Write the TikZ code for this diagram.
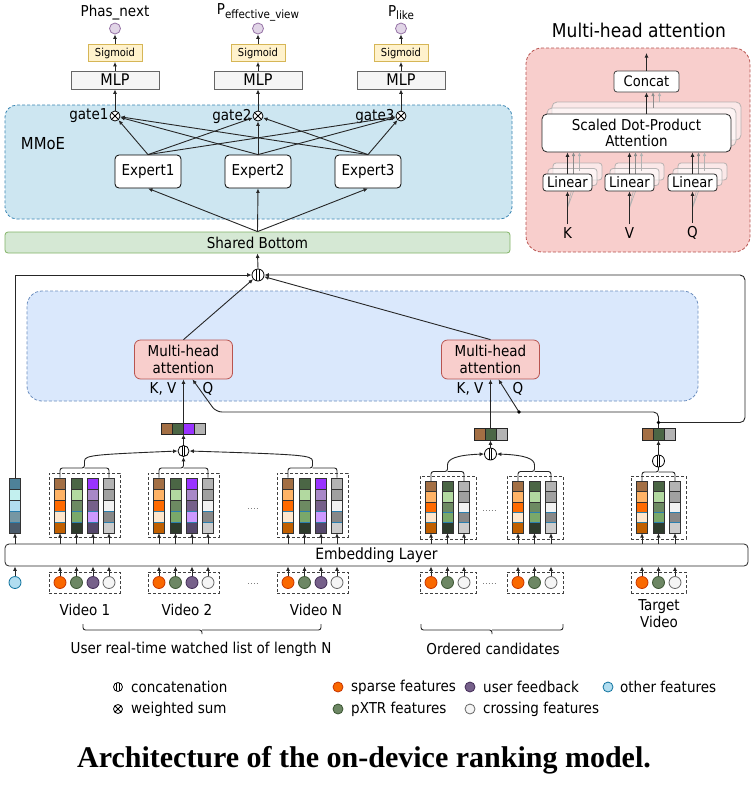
\documentclass[tikz,border=0pt]{standalone}
\usepackage{fontspec}
\setmainfont{DejaVu Sans Condensed}
\newfontfamily\capfont{Liberation Serif}
\usetikzlibrary{arrows.meta,calc}
\newcommand{\fs}[1]{\fontsize{#1}{#1}\selectfont}
\definecolor{mmoeF}{HTML}{CDE6F1}\definecolor{mmoeS}{HTML}{3A86B4}
\definecolor{midF}{HTML}{DAE8FC}\definecolor{midS}{HTML}{6C8EBF}
\definecolor{attF}{HTML}{F8CECC}\definecolor{attS}{HTML}{B85450}
\definecolor{sbF}{HTML}{D5E8D4}\definecolor{sbS}{HTML}{82B366}
\definecolor{mlpF}{HTML}{F5F5F5}\definecolor{mlpS}{HTML}{666666}
\definecolor{sigF}{HTML}{FFF2CC}\definecolor{sigS}{HTML}{D6B656}
\definecolor{outF}{HTML}{E1D5E7}\definecolor{outS}{HTML}{9673A6}
\definecolor{cellBlue}{HTML}{2A7FAF}
\definecolor{spA}{HTML}{A36F44}\definecolor{spB}{HTML}{FFB366}\definecolor{spC}{HTML}{FF6A00}\definecolor{spD}{HTML}{FFE6CC}\definecolor{spE}{HTML}{C05F00}
\definecolor{pxA}{HTML}{4B6645}\definecolor{pxB}{HTML}{B2D9A0}\definecolor{pxC}{HTML}{6D8A62}\definecolor{pxD}{HTML}{7AA86A}\definecolor{pxE}{HTML}{2E3B2C}
\definecolor{fbA}{HTML}{9933FF}\definecolor{fbB}{HTML}{A888C8}\definecolor{fbC}{HTML}{76608A}\definecolor{fbD}{HTML}{CC99FF}\definecolor{fbE}{HTML}{55476B}
\definecolor{crA}{HTML}{B3B3B3}\definecolor{crB}{HTML}{A0A0A0}\definecolor{crC}{HTML}{F2F2F2}\definecolor{crD}{HTML}{888888}\definecolor{crE}{HTML}{CCCCCC}
\definecolor{ofA}{HTML}{4E8299}\definecolor{ofB}{HTML}{C3F0EF}\definecolor{ofC}{HTML}{B1DDF0}\definecolor{ofD}{HTML}{7697A3}\definecolor{ofE}{HTML}{4B5B6B}
\definecolor{dSp}{HTML}{FA6800}\definecolor{dSpS}{HTML}{C73500}
\definecolor{dPx}{HTML}{6D8764}\definecolor{dPxS}{HTML}{3A5431}
\definecolor{dFb}{HTML}{76608A}\definecolor{dFbS}{HTML}{432D57}
\definecolor{dCr}{HTML}{F5F5F5}\definecolor{dCrS}{HTML}{666666}
\definecolor{dOf}{HTML}{B1DDF0}\definecolor{dOfS}{HTML}{10739E}

\newcommand{\fcol}[9]{%
 \draw[cellS, fill=#5] (#2-5.5,#3) rectangle (#2+5.5,#3+#4);
 \draw[cellS, fill=#6] (#2-5.5,#3+#4) rectangle (#2+5.5,#3+2*#4);
 \draw[cellS, fill=#7] (#2-5.5,#3+2*#4) rectangle (#2+5.5,#3+3*#4);
 \draw[cellS, fill=#9] (#2-5.5,#3+4*#4) rectangle (#2+5.5,#3+5*#4);
 \draw[cellS, draw=cellBlue, fill=#8] (#2-5.5,#3+3*#4) rectangle (#2+5.5,#3+4*#4);
 \draw[cellS] (#2-5.5,#3) -- (#2-5.5,#3+5*#4) (#2+5.5,#3) -- (#2+5.5,#3+5*#4);
 \coordinate (#1t) at (#2,#3);
 \coordinate (#1b) at (#2,#3+5*#4);
 \draw[arr] (#1b |- emb.north) -- (#1b);
}
\newcommand{\csp}[4]{\fcol{#1}{#2}{#3}{#4}{spA}{spB}{spC}{spD}{spE}}
\newcommand{\cpx}[4]{\fcol{#1}{#2}{#3}{#4}{pxA}{pxB}{pxC}{pxD}{pxE}}
\newcommand{\cfb}[4]{\fcol{#1}{#2}{#3}{#4}{fbA}{fbB}{fbC}{fbD}{fbE}}
\newcommand{\ccr}[4]{\fcol{#1}{#2}{#3}{#4}{crA}{crB}{crC}{crD}{crE}}
\newcommand{\fdot}[4]{\node[fdotS, fill=#3, draw=#4] (#1) at (#2,582.5) {}; \draw[arr] (#1.north) -- (#1.north |- emb.south);}
\newcommand{\brk}[6]{% x1 x2 xm ybar ytop ybot
 \draw[ln, rounded corners=2.5pt] (#1,#6) |- (#3,#4) -- (#3,#5);
 \draw[ln, rounded corners=2.5pt] (#2,#6) |- (#3,#4);}

\begin{document}
\begin{tikzpicture}[x=1pt,y=-1pt,
  ln/.style={line width=0.9pt, draw=black!85},
  arr/.style={ln, -{Latex[length=4.5pt,width=4pt]}},
  garr/.style={line width=0.8pt, -{Latex[length=4pt,width=3.5pt]}},
  bx/.style={draw, inner sep=0pt, align=center, line width=0.8pt},
  cellS/.style={draw=black!80, line width=0.8pt},
  grp/.style={draw=black!75, line width=0.8pt, dash pattern=on 3pt off 2pt, inner sep=0pt},
  fdotS/.style={circle, line width=0.8pt, minimum size=12pt, inner sep=0pt},
  ocirc/.style={circle, draw=outS, fill=outF, line width=0.8pt, minimum size=11pt, inner sep=0pt},
  otimesnode/.style={circle, draw, fill=white, line width=0.8pt, inner sep=0pt, minimum size=#1,
    path picture={\draw[line width=0.8pt] (path picture bounding box.north west) -- (path picture bounding box.south east) (path picture bounding box.north east) -- (path picture bounding box.south west);}},
  otimesnode/.default=10pt,
  concatnode/.style={circle, draw, fill=white, line width=0.8pt, inner sep=0pt, minimum size=#1,
    path picture={\draw[line width=0.7pt] ([xshift=-1.3pt]path picture bounding box.north) -- ([xshift=-1.3pt]path picture bounding box.south) ([xshift=1.3pt]path picture bounding box.north) -- ([xshift=1.3pt]path picture bounding box.south);}},
  concatnode/.default=12pt,
  shadowbox/.style={bx, draw=black!35, fill=white, fill opacity=0.55, draw opacity=0.8},
  lbl/.style={font=\fs{15}},
]
\useasboundingbox (0,0) rectangle (752,788);
\fill[white] (0,0) rectangle (752,788);

% ---------- MMoE ----------
\node[bx, draw=mmoeS, dash pattern=on 3pt off 2pt, fill=mmoeF, rounded corners=12pt, minimum width=507pt, minimum height=114pt] (mmoe) at (258.5,162) {};
\node[font=\fs{16.5}] (mmoelab) at (43,144) {MMoE};
\node[bx, draw=sbS, fill=sbF, rounded corners=3pt, minimum width=505pt, minimum height=21pt, font=\fs{15}] (sb) at (257.5,242.5) {Shared Bottom};
\foreach \i/\x in {1/148,2/258,3/368}{
  \node[bx, fill=white, rounded corners=4pt, minimum width=66pt, minimum height=33pt, font=\fs{15}] (e\i) at (\x,171.5) {Expert\i};
}
\foreach \i/\x in {1/115,2/258,3/401}{
  \node[otimesnode] (g\i) at (\x,116) {};
  \node[font=\fs{15}, anchor=east, inner sep=1pt] (gl\i) at (g\i.west) {gate\i};
  \node[bx, draw=mlpS, fill=mlpF, minimum width=88pt, minimum height=18pt, font=\fs{16}] (m\i) at (\x,80) {MLP};
  \node[bx, draw=sigS, fill=sigF, minimum width=54pt, minimum height=17pt, font=\fs{11}] (s\i) at (\x,53) {Sigmoid};
  \node[ocirc] (o\i) at (\x,28.5) {};
  \draw[arr] (g\i.north) -- (m\i.south);
  \draw[arr] (m\i.north) -- (s\i.south);
  \draw[arr] (s\i.north) -- (o\i.south);
}
\node[font=\fs{15}] (p1) at (115,13) {Phas\_next};
\node[font=\fs{15}] (p2) at (258,12.5) {P{\fs{11.5}\raisebox{-3.5pt}{effective\_view}}};
\node[font=\fs{15}] (p3) at (401,12.5) {P{\fs{11.5}\raisebox{-3.5pt}{like}}};
\foreach \a in {1,2,3}{\foreach \b in {1,2,3}{\draw[arr] (e\a.north) -- (g\b);}}
\foreach \a in {1,2,3}{\draw[arr] (sb.north) -- (e\a.south);}

% ---------- Multi-head attention panel ----------
\node[font=\fs{19}] (mhtitle) at (639,30) {Multi-head attention};
\node[bx, draw=attS, fill=attF, dash pattern=on 3pt off 2pt, rounded corners=16pt, minimum width=224pt, minimum height=204pt] (mhp) at (638,150) {};
\node[shadowbox, rounded corners=5pt, minimum width=189pt, minimum height=38pt] (sdpaB) at (646.5,121) {};
\node[shadowbox, rounded corners=5pt, minimum width=189pt, minimum height=38pt] (sdpaA) at (641.5,127) {};
\node[bx, draw=black!75, fill=white, rounded corners=3pt, minimum width=65pt, minimum height=21pt, font=\fs{14.5}] (cat) at (646.5,81.5) {Concat};
\coordinate (mhout) at (646.5,53);
\draw[arr] (cat.north) -- (mhout);
\draw[garr, draw=black!45] (653,108) -- (653,92);
\draw[garr, draw=black!30] (659.5,102) -- (659.5,92);
\node[bx, draw=black!85, fill=white, rounded corners=5pt, minimum width=189pt, minimum height=38pt, font=\fontsize{15}{16.5}\selectfont] (sdpa) at (636.5,133) {Scaled Dot-Product\\Attention};
\draw[arr] (sdpa.north -| cat.south) -- (cat.south);
\foreach \i/\x/\l in {1/567.5/K,2/629.5/V,3/692.5/Q}{
  \node[shadowbox, rounded corners=3pt, minimum width=49pt, minimum height=17pt] (linB\i) at (\x+10,171.5) {};
  \node[shadowbox, rounded corners=3pt, minimum width=49pt, minimum height=17pt] (linA\i) at (\x+5,177) {};
  \draw[garr, draw=black!45] (\x+6,177) -- (\x+6,152);
  \draw[garr, draw=black!30] (\x+12,171) -- (\x+12,152);
  \draw[line width=0.6pt, draw=black!30] (\x,208) -- (\x+5,185.5) (\x,208) -- (\x+10,180);
  \node[bx, draw=black!85, fill=white, rounded corners=3pt, minimum width=49pt, minimum height=17pt, font=\fs{14.5}] (lin\i) at (\x,182.5) {Linear};
  \draw[arr] (lin\i.north) -- (lin\i.north |- sdpa.south);
  \node[font=\fs{15}] (kvq\i) at (\x,233) {\l};
  \draw[arr] (kvq\i.north) -- (lin\i.south);
}

% ---------- middle attention ----------
\node[bx, draw=midS, fill=midF, dash pattern=on 3pt off 2pt, rounded corners=15pt, minimum width=671pt, minimum height=110pt] (mid) at (362.5,346) {};
\node[concatnode] (cc) at (258,275) {};
\draw[arr] (cc.north) -- (sb.south);
\node[bx, draw=attS, fill=attF, rounded corners=6pt, minimum width=98pt, minimum height=39pt, font=\fontsize{15}{16.5}\selectfont] (att1) at (183.5,359.5) {Multi-head\\attention};
\node[bx, draw=attS, fill=attF, rounded corners=6pt, minimum width=98pt, minimum height=39pt, font=\fontsize{15}{16.5}\selectfont] (att2) at (490.5,359.5) {Multi-head\\attention};
\draw[arr] (att1.north) -- (cc);
\draw[arr] (att2.north) -- (cc);
\node[lbl] (kv1) at (163,389) {K, V};
\node[lbl] (q1) at (208,389) {Q};
\node[lbl] (kv2) at (470,389) {K, V};
\node[lbl] (q2) at (518,389) {Q};

% ---------- embedding layer ----------
\node[bx, draw=black!85, fill=white, rounded corners=4pt, minimum width=743pt, minimum height=22pt, font=\fs{15.5}] (emb) at (376.5,555) {Embedding Layer};

% group boxes
\node[grp, minimum width=71pt, minimum height=64pt] (gw1) at (84.5,505) {};
\node[grp, minimum width=71pt, minimum height=64pt] (gw2) at (183.5,505) {};
\node[grp, minimum width=71pt, minimum height=64pt] (gwn) at (312.5,505) {};
\node[grp, minimum width=56pt, minimum height=63pt] (gc1) at (448,507.5) {};
\node[grp, minimum width=56pt, minimum height=63pt] (gc2) at (535,507.5) {};
\node[grp, minimum width=55pt, minimum height=63pt] (gt) at (658.5,507.5) {};
\node[grp, minimum width=71pt, minimum height=21pt] (fw1) at (84.5,582.5) {};
\node[grp, minimum width=71pt, minimum height=21pt] (fw2) at (183.5,582.5) {};
\node[grp, minimum width=71pt, minimum height=21pt] (fwn) at (312.5,582.5) {};
\node[grp, minimum width=56pt, minimum height=21pt] (fc1) at (448,582.5) {};
\node[grp, minimum width=56pt, minimum height=21pt] (fc2) at (535,582.5) {};
\node[grp, minimum width=55pt, minimum height=21pt] (ft) at (658.5,582.5) {};

% columns
\fcol{of}{15}{478}{11}{ofA}{ofB}{ofC}{ofD}{ofE}
\csp{a1}{60}{478}{11}\cpx{a2}{76.5}{478}{11}\cfb{a3}{93}{478}{11}\ccr{a4}{109}{478}{11}
\csp{b1}{159}{478}{11}\cpx{b2}{175.5}{478}{11}\cfb{b3}{192}{478}{11}\ccr{b4}{208}{478}{11}
\csp{n1}{288}{478}{11}\cpx{n2}{304.5}{478}{11}\cfb{n3}{321}{478}{11}\ccr{n4}{337}{478}{11}
\csp{c1}{431}{481.5}{10.3}\cpx{c2}{447.5}{481.5}{10.3}\ccr{c3}{464}{481.5}{10.3}
\csp{d1}{518}{481.5}{10.3}\cpx{d2}{534.5}{481.5}{10.3}\ccr{d3}{551}{481.5}{10.3}
\csp{t1}{642}{481.5}{10.3}\cpx{t2}{658.5}{481.5}{10.3}\ccr{t3}{675}{481.5}{10.3}

% feature dots
\fdot{fo}{15}{dOf}{dOfS}
\fdot{fa1}{60}{dSp}{dSpS}\fdot{fa2}{76.5}{dPx}{dPxS}\fdot{fa3}{93}{dFb}{dFbS}\fdot{fa4}{109}{dCr}{dCrS}
\fdot{fb1}{159}{dSp}{dSpS}\fdot{fb2}{175.5}{dPx}{dPxS}\fdot{fb3}{192}{dFb}{dFbS}\fdot{fb4}{208}{dCr}{dCrS}
\fdot{fn1}{288}{dSp}{dSpS}\fdot{fn2}{304.5}{dPx}{dPxS}\fdot{fn3}{321}{dFb}{dFbS}\fdot{fn4}{337}{dCr}{dCrS}
\fdot{fc1d}{431}{dSp}{dSpS}\fdot{fc2d}{447.5}{dPx}{dPxS}\fdot{fc3d}{464}{dCr}{dCrS}
\fdot{fd1}{518}{dSp}{dSpS}\fdot{fd2}{534.5}{dPx}{dPxS}\fdot{fd3}{551}{dCr}{dCrS}
\fdot{ft1}{642}{dSp}{dSpS}\fdot{ft2}{658.5}{dPx}{dPxS}\fdot{ft3}{675}{dCr}{dCrS}

% dotted ellipses
\draw[dotted, line width=0.9pt, draw=black!50] (248,508) -- (259,508) (248,583) -- (259,583) (483,510) -- (496,510) (483,583) -- (496,583);

% braces
\brk{60}{109}{84.5}{468}{461}{477.5}
\brk{159}{208}{183.5}{468}{461}{477.5}
\brk{288}{337}{312.5}{468}{461}{477.5}
\brk{431}{464}{447.5}{471.5}{465}{481}
\brk{518}{551}{534.5}{471.5}{465}{481}
\brk{642}{675}{658.5}{472}{467}{481}

% concat boxes
\foreach \k/\c in {0/spA,1/pxA,2/fbA,3/crA}{\fill[\c] (161.5+11*\k,423) rectangle ++(11,11);}
\node[bx, draw=black!85, minimum width=44pt, minimum height=11pt] (wbox) at (183.5,428.5) {};
\draw[line width=0.8pt, draw=black!85] (172.5,423) -- (172.5,434) (183.5,423) -- (183.5,434) (194.5,423) -- (194.5,434);
\foreach \k/\c in {0/spA,1/pxA,2/crA}{\fill[\c] (474+11*\k,428) rectangle ++(11,12);}
\node[bx, draw=black!85, minimum width=33pt, minimum height=12pt] (cbox) at (490.5,434) {};
\draw[line width=0.8pt, draw=black!85] (485,428) -- (485,440) (496,428) -- (496,440);
\foreach \k/\c in {0/spA,1/pxA,2/crA}{\fill[\c] (642+11*\k,428) rectangle ++(11,12);}
\node[bx, draw=black!85, minimum width=33pt, minimum height=12pt] (tbox) at (658.5,434) {};
\draw[line width=0.8pt, draw=black!85] (653,428) -- (653,440) (664,428) -- (664,440);

\node[concatnode=11pt] (wcc) at (183.5,451) {};
\node[concatnode] (ccc) at (490.5,454) {};
\node[concatnode] (tcc) at (658.5,461) {};
\draw[arr] (wcc.north) -- (wbox.south);
\draw[arr] (ccc.north) -- (cbox.south);
\draw[arr] (tcc.north) -- (tbox.south);
\draw[arr] (183.5,461) -- (wcc.south);
\draw[arr] (84.5,461) .. controls (84.5,455) and (96,454.5) .. (wcc.west);
\draw[arr] (312.5,461) .. controls (312.5,455) and (300,454.5) .. (wcc.east);
\draw[arr] (447.5,465) .. controls (447.5,459) and (456,455) .. (ccc.west);
\draw[arr] (534.5,465) .. controls (534.5,459) and (526,455) .. (ccc.east);

\draw[arr] (wbox.north) -- (att1.south);
\draw[arr] (cbox.north) -- (att2.south);

% target routing
\coordinate (tdot) at (658.5,422.5);
\coordinate (qdot) at (519,412);
\draw[ln] (tbox.north) -- (tdot);
\draw[arr, rounded corners=5pt] (tdot) -- (745,422.5) -- (745,275) -- (cc.east);
\draw[ln, rounded corners=5pt] (tdot) -- (658.5,412) -- (qdot);
\draw[arr, rounded corners=6pt] (qdot) -- (216,412) -- ([xshift=9pt]att1.south);
\draw[arr] (qdot) -- ([xshift=8pt]att2.south);
\fill (tdot) circle (1.8);
\fill (qdot) circle (1.8);
\draw[arr] (oft) -- (15,275) -- (cc.west);

% ---------- bottom labels ----------
\node[lbl] (v1) at (85,610) {Video 1};
\node[lbl] (v2) at (187,610) {Video 2};
\node[lbl] (vn) at (316,610) {Video N};
\node[font=\fontsize{15}{17}\selectfont, align=center] (tv) at (659,614) {Target\\Video};
\draw[ln, rounded corners=2.5pt] (83,624) |- (202,630) -- (202,634);
\draw[ln, rounded corners=2.5pt] (321,624) |- (202,630);
\draw[ln, rounded corners=2.5pt] (421,624) |- (492,630) -- (492,634);
\draw[ln, rounded corners=2.5pt] (563,624) |- (492,630);
\node[lbl] (ul) at (201,649) {User real-time watched list of length N};
\node[lbl] (oc) at (493,649) {Ordered candidates};

% ---------- legend ----------
\node[concatnode=9pt] (lg1) at (118,687) {};
\node[lbl, anchor=west, inner sep=0pt] (lt1) at (131,687) {concatenation};
\node[otimesnode=9pt] (lg2) at (118,709) {};
\node[lbl, anchor=west, inner sep=0pt] (lt2) at (131,709) {weighted sum};
\node[fdotS, minimum size=10pt, fill=dSp, draw=dSpS] (lg3) at (338,687) {};
\node[lbl, anchor=west, inner sep=0pt] (lt3) at (351,687) {sparse features};
\node[fdotS, minimum size=10pt, fill=dPx, draw=dPxS] (lg4) at (338,709) {};
\node[lbl, anchor=west, inner sep=0pt] (lt4) at (351,709) {pXTR features};
\node[fdotS, minimum size=10pt, fill=dFb, draw=dFbS] (lg5) at (470,687) {};
\node[lbl, anchor=west, inner sep=0pt] (lt5) at (483,687) {user feedback};
\node[fdotS, minimum size=10pt, fill=dCr, draw=dCrS] (lg6) at (470,709) {};
\node[lbl, anchor=west, inner sep=0pt] (lt6) at (483,709) {crossing features};
\node[fdotS, minimum size=10pt, fill=dOf, draw=dOfS] (lg7) at (608,687) {};
\node[lbl, anchor=west, inner sep=0pt] (lt7) at (620,687) {other features};

% ---------- caption ----------
\node[font=\capfont\bfseries\fs{30}] (cap) at (364,760) {Architecture of the on-device ranking model.};
\end{tikzpicture}
\end{document}
